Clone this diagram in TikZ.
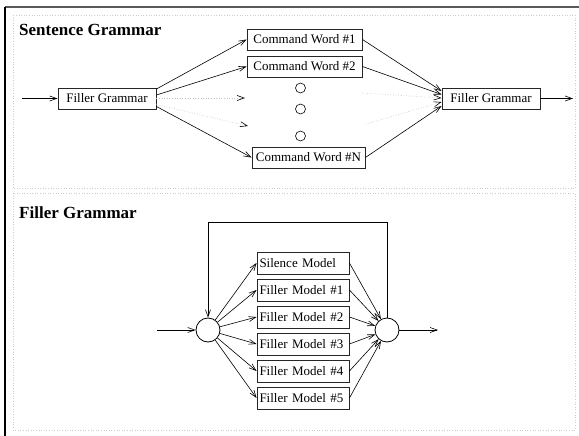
\documentclass[tikz,border=0pt]{standalone}
\usepackage{fontspec}
\setmainfont{Liberation Serif}
\usetikzlibrary{arrows.meta}
\begin{document}
\begin{tikzpicture}[x=1pt,y=-1pt,
  box/.style={draw=black!85, line width=0.9pt, minimum height=21pt, inner sep=0pt, font=\fontsize{13}{15}\selectfont},
  mbox/.style={box, minimum height=22pt, text width=87pt, align=left, inner xsep=2.5pt},
  conn/.style={line width=0.6pt, -{Straight Barb[length=7pt,width=5pt]}},
  faint/.style={line width=0.6pt, draw=black!25, dotted, -{Straight Barb[length=7pt,width=5pt,color=black]}},
  smalldot/.style={draw, circle, line width=0.6pt, minimum size=10pt, inner sep=0pt},
  junction/.style={draw, circle, line width=0.8pt, minimum size=24pt, inner sep=0pt},
  frame/.style={draw=black!20, dotted, line width=0.6pt},
  title/.style={font=\fontsize{17}{20}\selectfont\bfseries, anchor=base west, inner sep=0pt}]
\useasboundingbox (0,0) rectangle (579,436);
\fill[white] (0,0) rectangle (579,436);
\draw[black!65, line width=1.5pt] (5,7) -- (579,7);
\draw[black, line width=1.2pt] (5,436) -- (5,7);
\draw[frame] (13,15) rectangle (575,188);
\draw[frame] (13,193) rectangle (575,430);

% ---------- Sentence Grammar ----------
\node[title] (t1) at (19,36) {Sentence Grammar};
\node[box, minimum width=98pt] (fg1) at (107,98.5) {Filler Grammar};
\node[box, minimum width=98pt] (fg2) at (491,98.5) {Filler Grammar};
\node[box, minimum width=115pt] (cw1) at (304.5,39.5) {Command Word \#1};
\node[box, minimum width=115pt] (cw2) at (304.5,66.5) {Command Word \#2};
\node[box, minimum width=113pt] (cwn) at (308.5,157.5) {Command Word \#N};
\node[smalldot] (c1) at (300.5,88) {};
\node[smalldot] (c2) at (300.5,109) {};
\node[smalldot] (c3) at (300.5,136) {};
\coordinate (in1) at (22,98.5);
\coordinate (out1) at (573,98.5);
\coordinate (d1) at (245,98);
\coordinate (d2) at (248,126);
\coordinate (d3) at (362,93);
\coordinate (d4) at (366,124);

\draw[conn] (in1) -- (fg1.west);
\draw[conn] (fg2.east) -- (out1);
\draw[conn] ([yshift=9.5pt]fg1.east) -- (cw1.west);
\draw[conn] ([yshift=3.5pt]fg1.east) -- (cw2.west);
\draw[faint] ([yshift=0.5pt]fg1.east) -- (d1);
\draw[faint] ([yshift=-6pt]fg1.east) -- (d2);
\draw[conn] ([yshift=-8pt]fg1.east) -- (cwn.west);
\draw[conn] (cw1.east) -- ([yshift=7.5pt]fg2.west);
\draw[conn] (cw2.east) -- ([yshift=4pt]fg2.west);
\draw[faint] (d3) -- ([yshift=0.5pt]fg2.west);
\draw[faint] (d4) -- ([yshift=-3.5pt]fg2.west);
\draw[conn] (cwn.east) -- ([yshift=-7.5pt]fg2.west);

% ---------- Filler Grammar ----------
\node[title] (t2) at (19,218.5) {Filler Grammar};
\node[junction] (lc) at (208,330) {};
\node[junction] (rc) at (387,330) {};
\node[mbox] (m0) at (303,263) {Silence Model};
\node[mbox] (m1) at (303,290) {Filler Model \#1};
\node[mbox] (m2) at (303,317) {Filler Model \#2};
\node[mbox] (m3) at (303,344) {Filler Model \#3};
\node[mbox] (m4) at (303,371) {Filler Model \#4};
\node[mbox] (m5) at (303,398) {Filler Model \#5};
\coordinate (in2) at (157,330);
\coordinate (out2) at (438,330);
\coordinate (top) at (300,222);

\draw[conn] (in2) -- (lc);
\draw[conn] (rc) -- (out2);
\draw[conn] (rc.north) -- (rc.north |- top) -| (lc.north);
\foreach \m in {m0,m1,m2,m3,m4,m5}{
  \draw[conn] (lc) -- (\m.west);
  \draw[conn] (\m.east) -- (rc);
}
\end{tikzpicture}
\end{document}
